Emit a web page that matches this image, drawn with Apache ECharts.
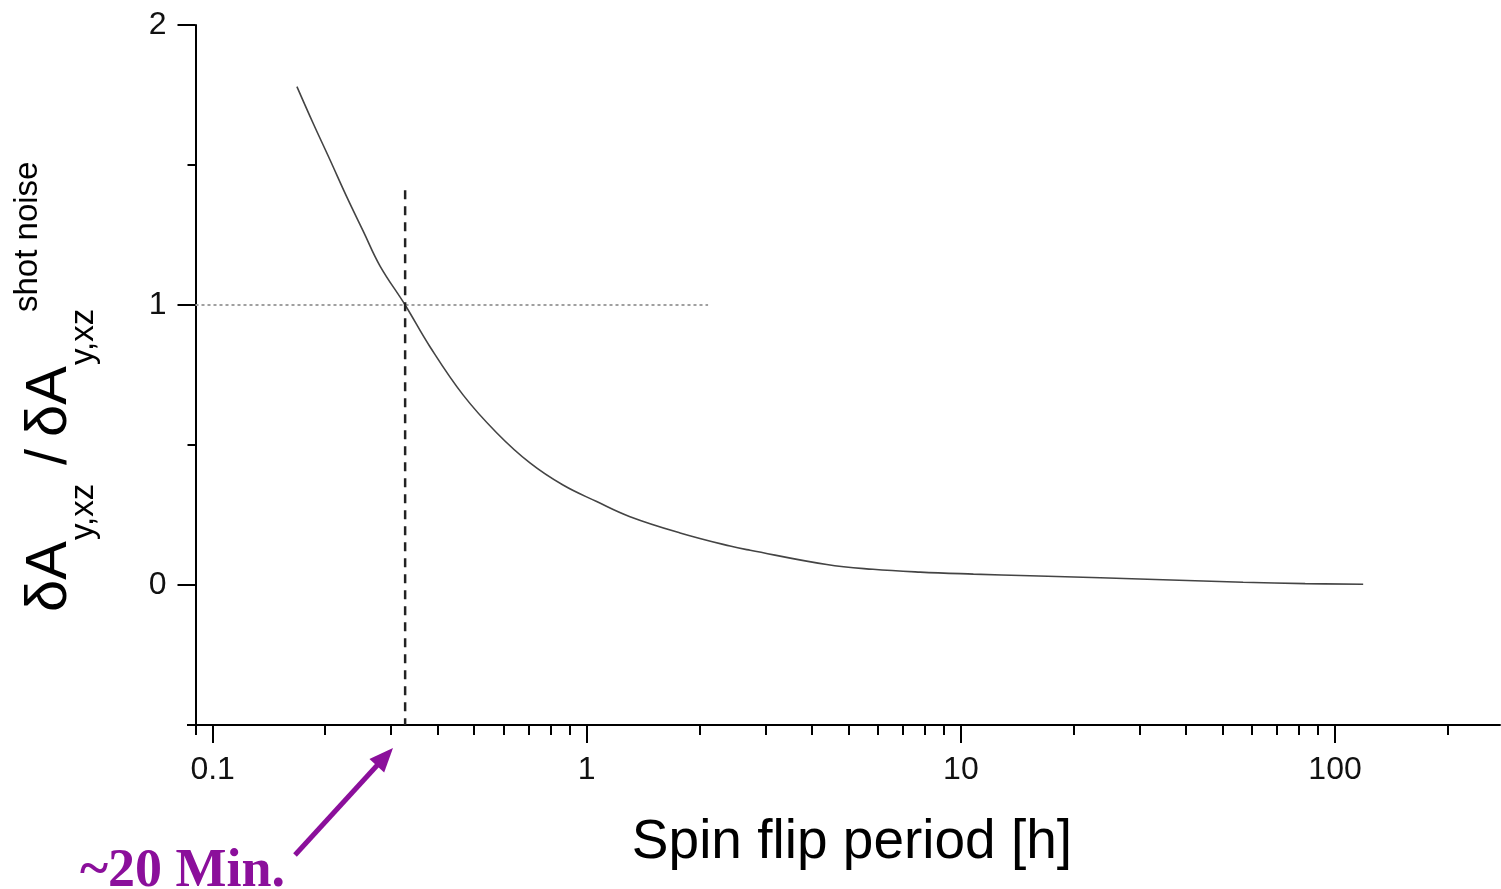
<!DOCTYPE html>
<html><head><meta charset="utf-8">
<script src="https://cdn.jsdelivr.net/npm/echarts@6/dist/echarts.min.js"></script>
<style>html,body{margin:0;padding:0;background:#fff}#c{width:1501px;height:889px}</style>
</head><body><div id="c"></div>
<script>
// ---- data ----
const periodH = [0.168, 0.1855, 0.206, 0.228, 0.253, 0.280, 0.327, 0.381, 0.467, 0.575, 0.705, 0.864, 1.063, 1.305, 1.776, 2.416, 2.734, 4.38, 5.82, 7.78, 10.8, 15.3, 23.6, 34.7, 56.8, 83.2, 118.9];
const ratio   = [1.780, 1.650, 1.518, 1.388, 1.262, 1.140, 1.000, 0.851, 0.679, 0.543, 0.436, 0.357, 0.298, 0.244, 0.186, 0.139, 0.124, 0.073, 0.056, 0.046, 0.039, 0.033, 0.026, 0.019, 0.010, 0.005, 0.0025];
const xMajorTicks = [0.1, 1, 10, 100];
const xMinorTicks = [0.09, 0.2, 0.3, 0.4, 0.5, 0.6, 0.7, 0.8, 0.9, 2, 3, 4, 5, 6, 7, 8, 9, 20, 30, 40, 50, 60, 70, 80, 90, 200];
const yMajorTicks = [0, 1, 2];
const xRange = [0.09, 276];
const yRange = [-0.5, 2];
const markerPeriod = 0.327;   // ~20 min
const markerTop = 1.41;
const refLevel = 1;
const refLineEnd = 2.11;
const xTitle = 'Spin flip period [h]';
const noteText = '~20 Min.';

const lg = Math.log10;
const font = "'Liberation Sans', Arial, sans-serif";

const chart = echarts.init(document.getElementById('c'), null, {renderer: 'canvas'});

const fmtX = v => { const val = Math.pow(10, v); return val < 1 ? val.toFixed(1) : String(Math.round(val)); };

// arrow geometry (annotation layout)
const a0 = [295, 855], a1 = [393, 748];
const dx = a1[0] - a0[0], dy = a1[1] - a0[1], L = Math.hypot(dx, dy);
const ux = dx / L, uy = dy / L, hl = 24, hw = 10;
const bx = a1[0] - ux * hl, by = a1[1] - uy * hl;
const purple = '#8b0f9b';

const ySub = 84, yMain = 50, ySup = 28;

chart.setOption({
  animation: false,
  backgroundColor: '#fff',
  grid: {left: 195.5, right: 1, top: 25, bottom: 164, containLabel: false},
  xAxis: [
    {type: 'value', min: lg(xRange[0]), max: lg(xRange[1]), position: 'bottom',
     axisLine: {show: true, onZero: false, lineStyle: {color: '#000', width: 2}},
     axisTick: {show: true, customValues: xMinorTicks.map(lg), length: 10, lineStyle: {color: '#000', width: 2}},
     axisLabel: {show: false}, splitLine: {show: false}},
    {type: 'value', min: lg(xRange[0]), max: lg(xRange[1]), position: 'bottom',
     axisLine: {show: false, onZero: false},
     axisTick: {show: true, customValues: xMajorTicks.map(lg), length: 18, lineStyle: {color: '#000', width: 2}},
     axisLabel: {show: true, customValues: xMajorTicks.map(lg), formatter: fmtX, margin: 29,
                 fontFamily: font, fontSize: 32, color: '#111'},
     splitLine: {show: false}}
  ],
  yAxis: [
    {type: 'value', min: yRange[0], max: yRange[1], interval: 0.5,
     axisLine: {show: true, onZero: false, lineStyle: {color: '#000', width: 2}},
     axisTick: {show: true, length: 8, lineStyle: {color: '#000', width: 2}},
     axisLabel: {show: false}, splitLine: {show: false}},
    {type: 'value', min: yRange[0], max: yRange[1], position: 'left',
     axisLine: {show: false, onZero: false},
     axisTick: {show: true, customValues: yMajorTicks, length: 18, lineStyle: {color: '#000', width: 2}},
     axisLabel: {show: true, customValues: yMajorTicks, margin: 29, fontFamily: font, fontSize: 32, color: '#111'},
     splitLine: {show: false}}
  ],
  series: [
    {type: 'line', xAxisIndex: 0, yAxisIndex: 0, showSymbol: false, smooth: 0.4,
     data: periodH.map((p, i) => [lg(p), ratio[i]]),
     lineStyle: {color: '#444', width: 1.6}},
    {type: 'line', xAxisIndex: 0, yAxisIndex: 0, showSymbol: false,
     data: [[lg(xRange[0]), refLevel], [lg(refLineEnd), refLevel]],
     lineStyle: {color: '#a0a0a0', width: 2, type: [3, 3]}},
    {type: 'line', xAxisIndex: 0, yAxisIndex: 0, showSymbol: false,
     data: [[lg(markerPeriod), markerTop], [lg(markerPeriod), yRange[0]]],
     lineStyle: {color: '#222', width: 2.5, type: [9, 7]}}
  ],
  graphic: [
    {type: 'line', shape: {x1: 187, y1: 725, x2: 196, y2: 725}, style: {stroke: '#000', lineWidth: 2}},
    {type: 'group', x: 0, y: 620, rotation: Math.PI / 2, children: [
      {type: 'text', x: 8, y: yMain, style: {text: 'δA', font: `58px ${font}`, fill: '#000', verticalAlign: 'middle', align: 'left'}},
      {type: 'text', x: 80, y: ySub, style: {text: 'y,xz', font: `33px ${font}`, fill: '#000', verticalAlign: 'middle', align: 'left'}},
      {type: 'text', x: 155, y: yMain, style: {text: '/', font: `58px ${font}`, fill: '#000', verticalAlign: 'middle', align: 'left'}},
      {type: 'text', x: 183, y: yMain, style: {text: 'δA', font: `58px ${font}`, fill: '#000', verticalAlign: 'middle', align: 'left'}},
      {type: 'text', x: 255, y: ySub, style: {text: 'y,xz', font: `33px ${font}`, fill: '#000', verticalAlign: 'middle', align: 'left'}},
      {type: 'text', x: 308, y: ySup, style: {text: 'shot noise', font: `33px ${font}`, fill: '#000', verticalAlign: 'middle', align: 'left'}}
    ]},
    {type: 'text', x: 852, y: 843, style: {text: xTitle, font: `55px ${font}`, fill: '#000', align: 'center', verticalAlign: 'middle'}},
    {type: 'text', x: 80, y: 872, style: {text: noteText, font: `bold 54px 'Liberation Serif', 'Times New Roman', serif`, fill: purple, align: 'left', verticalAlign: 'middle'}},
    {type: 'line', shape: {x1: a0[0], y1: a0[1], x2: bx + ux * 2, y2: by + uy * 2}, style: {stroke: purple, lineWidth: 5}},
    {type: 'polygon', shape: {points: [[a1[0], a1[1]], [bx - uy * hw, by + ux * hw], [bx + uy * hw, by - ux * hw]]}, style: {fill: purple}}
  ]
});
</script>
</body></html>
